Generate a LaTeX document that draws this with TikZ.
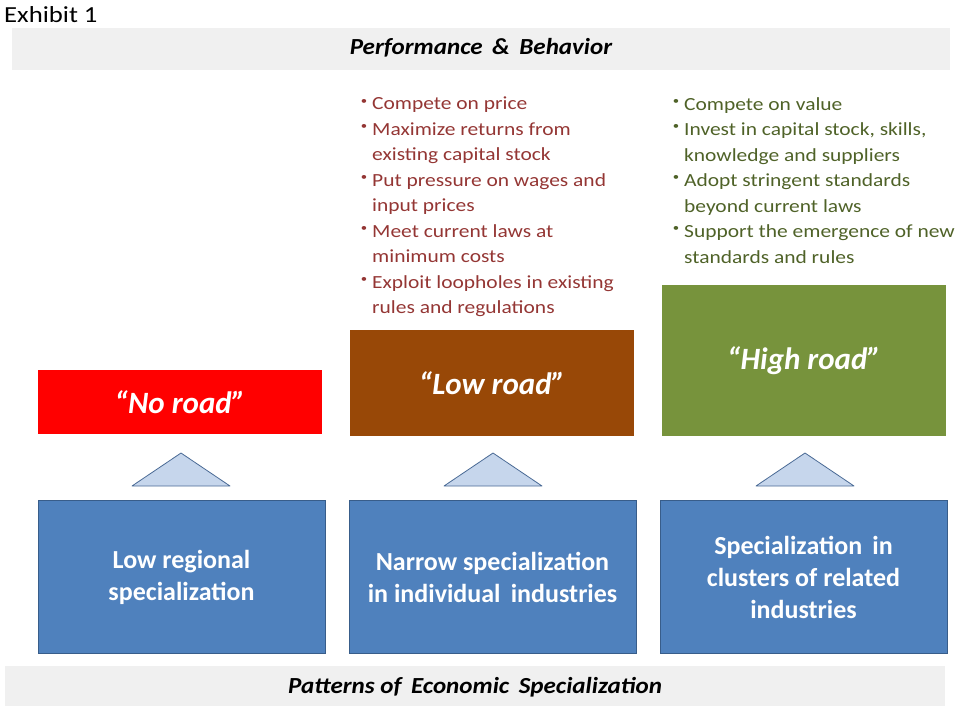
\documentclass[tikz,border=0pt]{standalone}
\usepackage{fontspec}
\setmainfont{Carlito}
\newfontfamily\widefont[FakeStretch=1.16]{Carlito}
\newfontfamily\semiwide[FakeStretch=1.09]{Carlito}
\definecolor{bandgray}{HTML}{F0F0F0}
\definecolor{roadred}{HTML}{FF0000}
\definecolor{roadbrown}{HTML}{984807}
\definecolor{roadgreen}{HTML}{77933C}
\definecolor{boxblue}{HTML}{4F81BD}
\definecolor{boxblueline}{HTML}{385D8A}
\definecolor{trifill}{HTML}{C6D6EC}
\definecolor{triline}{HTML}{4A6A95}
\definecolor{lowtext}{HTML}{943634}
\definecolor{hightext}{HTML}{4F6228}
\newcommand\bul{\llap{\raisebox{0.3em}{\fontsize{11}{11}\selectfont\textbullet}\hspace{5pt}}}
\tikzset{
  band/.style={fill=bandgray, draw=none},
  bandtext/.style={font=\semiwide\fontsize{23}{27}\selectfont\bfseries\itshape, text=black},
  roadbox/.style={draw=none, minimum width=284pt, inner sep=0pt, text=white,
    font=\fontsize{31}{36}\selectfont\bfseries\itshape},
  specbox/.style={fill=boxblue, draw=boxblueline, line width=1pt, minimum width=287pt,
    minimum height=153pt, inner sep=0pt, text=white, align=center,
    font=\fontsize{26}{32}\selectfont\bfseries},
  tri/.style={fill=trifill, draw=triline, line width=0.8pt, line join=round},
  bullets/.style={anchor=north west, align=left, inner sep=0pt,
    font=\widefont\fontsize{18.5}{25.5}\selectfont},
}
\begin{document}
\begin{tikzpicture}[x=1pt, y=-1pt]
\useasboundingbox (0,0) rectangle (956,707);
\node[anchor=base west, inner sep=0pt, font=\widefont\fontsize{23}{24}\selectfont] (exhibit) at (4,22) {Exhibit 1};
% top band
\fill[band] (12,28) rectangle (950,70);
\node[bandtext] (perf) at (481,48) {Performance \,\&\, Behavior};
% bottom band
\fill[band] (5,666) rectangle (945,706);
\node[bandtext] (patt) at (475,687) {Patterns of \,Economic \,Specialization};
% road boxes
\node[roadbox, fill=roadred, minimum height=64pt] (noroad) at (180,402) {“No road”};
\node[roadbox, fill=roadbrown, minimum height=106pt] (lowroad) at (492,383) {“Low road”};
\node[roadbox, fill=roadgreen, minimum height=151pt] (highroad) at (804,360.5) {“High road”};
% bullet lists
\node[bullets, text=lowtext] (lowlist) at (372,97) {%
\bul Compete on price\\
\bul Maximize returns from\\
existing capital stock\\
\bul Put pressure on wages and\\
input prices\\
\bul Meet current laws at\\
minimum costs\\
\bul Exploit loopholes in existing\\
rules and regulations};
\node[bullets, text=hightext] (highlist) at (684,97) {%
\bul Compete on value\\
\bul Invest in capital stock, skills,\\
knowledge and suppliers\\
\bul Adopt stringent standards\\
beyond current laws\\
\bul Support the emergence of new\\
standards and rules};
% triangles
\draw[tri] (132,486) -- (181,453) -- (230,486) -- cycle;
\draw[tri] (444,486) -- (493,453) -- (542,486) -- cycle;
\draw[tri] (756,486) -- (805,453) -- (854,486) -- cycle;
% specialization boxes
\node[specbox] (low) at (181.5,577) {Low regional\\specialization};
\node[specbox] (narrow) at (492.5,577) {Narrow specialization\\in individual \,industries};
\node[specbox] (cluster) at (803.5,577) {Specialization \,in\\clusters of related\\industries};
\end{tikzpicture}
\end{document}
